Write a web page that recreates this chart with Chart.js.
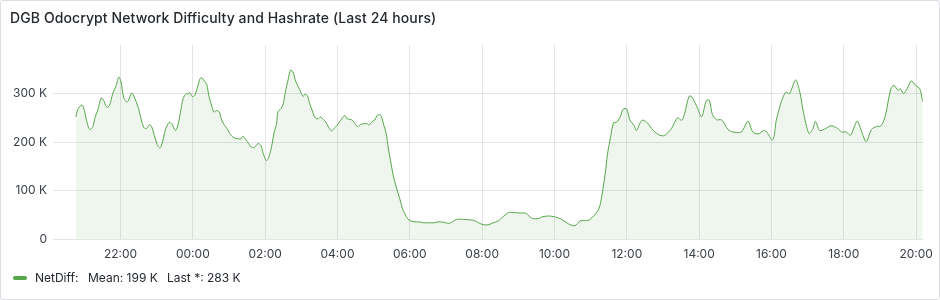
<!DOCTYPE html>
<html lang="en">
<head>
<meta charset="UTF-8">
<title>DGB Odocrypt Network Difficulty</title>
<script src="https://cdn.jsdelivr.net/npm/chart.js"></script>
<style>
  body { margin: 0; background: #fff; font-family: Inter, "Noto Sans", sans-serif; }
  .panel {
    position: relative; width: 940px; height: 300px; box-sizing: border-box;
    border: 1px solid #dcdde0; border-radius: 3px; overflow: hidden;
  }
  .panel canvas { position: absolute; left: 0; top: 0; }
  .title {
    position: absolute; left: 9px; top: 8px; font-size: 14px; font-weight: 500; color: #24292e;
    letter-spacing: 0.1px;
  }
  .legend { position: absolute; left: 0; top: 268px; width: 400px; height: 18px; font-size: 12px; color: #24292e; }
  .legend span { position: absolute; top: 0; line-height: 18px; white-space: pre; }
  .legend .mark { left: 12px; top: 7px; width: 14px; height: 4px; border-radius: 2px; background: #56a64b; }
</style>
</head>
<body>
<div class="panel">
  <canvas id="chart" width="940" height="300"></canvas>
  <div class="title">DGB Odocrypt Network Difficulty and Hashrate (Last 24 hours)</div>
  <div class="legend">
    <span class="mark"></span>
    <span style="left:34px">NetDiff:</span>
    <span style="left:87px">Mean: 199 K</span>
    <span style="left:166px">Last *: 283 K</span>
  </div>
</div>
<script>
// sample times (local clock, starting the previous evening)
const times = [
  '20:46','20:49','20:56','21:00','21:05','21:09','21:14','21:18','21:22','21:28',
  '21:32','21:37','21:42','21:47','21:53','21:57','22:01','22:05','22:10','22:13',
  '22:18','22:21','22:26','22:30','22:34','22:39','22:43','22:48','22:52','22:56',
  '23:01','23:05','23:07','23:11','23:15','23:21','23:25','23:31','23:35','23:40',
  '23:44','23:49','23:52','23:55','23:59','00:03','00:07','00:11','00:14','00:19',
  '00:23','00:27','00:32','00:35','00:39','00:44','00:48','00:53','00:57','01:01',
  '01:07','01:14','01:20','01:23','01:28','01:32','01:37','01:42','01:48','01:53',
  '01:57','02:02','02:06','02:11','02:15','02:19','02:21','02:26','02:30','02:34',
  '02:38','02:42','02:46','02:51','02:55','02:59','03:03','03:06','03:10','03:14',
  '03:19','03:23','03:28','03:32','03:37','03:41','03:45','03:50','03:54','03:59',
  '04:03','04:07','04:12','04:16','04:21','04:25','04:29','04:33','04:38','04:44',
  '04:49','04:53','04:58','05:02','05:06','05:10','05:13','05:17','05:21','05:24',
  '05:28','05:32','05:36','05:41','05:45','05:48','05:52','05:56','06:00','06:07',
  '06:15','06:23','06:31','06:40','06:48','06:56','07:06','07:18','07:29','07:46',
  '07:54','08:02','08:11','08:18','08:27','08:36','08:44','08:55','09:03','09:12',
  '09:23','09:34','09:39','09:50','10:01','10:12','10:23','10:34','10:43','10:56',
  '11:05','11:14','11:19','11:24','11:28','11:33','11:38','11:43','11:49','11:54',
  '12:00','12:05','12:12','12:16','12:25','12:33','12:44','12:55','13:03','13:14',
  '13:24','13:31','13:36','13:43','13:47','13:56','14:04','14:12','14:17','14:22',
  '14:29','14:37','14:48','14:56','15:10','15:21','15:29','15:38','15:49','16:02',
  '16:08','16:17','16:24','16:30','16:40','16:47','16:53','17:02','17:08','17:13',
  '17:20','17:30','17:39','17:50','17:56','18:04','18:11','18:22','18:29','18:37',
  '18:46','18:54','19:02','19:09','19:18','19:23','19:30','19:34','19:39','19:45',
  '19:52','19:59','20:06','20:11'
];

// network difficulty, in thousands
const netDiffK = [
  252,267,277,265,238,226,232,252,265,291,
  286,272,276,300,317,334,324,293,283,285,
  301,298,283,269,248,230,228,236,231,214,
  195,188,190,207,228,241,238,224,234,265,
  290,300,299,302,294,296,310,328,333,326,
  319,293,272,262,265,262,245,234,228,218,
  210,207,207,212,205,198,190,189,197,193,
  176,162,169,193,221,238,262,269,279,307,
  328,348,345,324,314,303,294,299,296,279,
  262,250,248,252,246,241,231,223,228,234,
  241,248,255,248,247,245,238,232,236,238,
  238,236,243,246,255,257,252,234,217,190,
  162,134,114,93,76,62,52,43,39,36,
  36,34,34,34,36,35,33,41,41,39,
  34,30,30,34,38,48,55,55,54,54,
  43,43,46,48,46,41,32,28,38,39,
  48,64,93,134,176,210,240,241,252,268,
  268,246,234,224,245,241,224,214,214,228,
  250,245,259,294,294,274,252,286,286,257,
  246,246,226,221,221,243,221,217,224,205,
  245,286,303,300,328,303,262,218,226,243,
  224,228,234,228,221,221,214,243,224,201,
  226,232,234,255,310,317,307,310,300,310,
  326,317,310,283
];

const xTickLabels = ['22:00','00:00','02:00','04:00','06:00','08:00','10:00','12:00','14:00','16:00','18:00','20:00'];
const yTickValues = [0, 100, 200, 300];

// turn clock strings into minutes, rolling over past midnight
function toMinutes(list) {
  let day = 0, prev = -1;
  return list.map(s => {
    const [h, m] = s.split(':').map(Number);
    let v = h * 60 + m;
    if (prev >= 0 && v < prev) day += 1440;
    prev = v;
    return v + day;
  });
}

const mins = toMinutes(times);
const tickMins = toMinutes(xTickLabels);

const ctx = document.getElementById('chart').getContext('2d');
new Chart(ctx, {
  type: 'line',
  data: {
    datasets: [{
      label: 'NetDiff',
      data: mins.map((m, i) => ({ x: m, y: netDiffK[i] })),
      borderColor: '#56a64b',
      backgroundColor: 'rgba(86,166,75,0.1)',
      borderWidth: 1,
      pointRadius: 0,
      tension: 0.3,
      fill: 'origin'
    }]
  },
  options: {
    responsive: false,
    animation: false,
    devicePixelRatio: 1,
    layout: { padding: { left: 0, top: 44, right: 16.5, bottom: 37.7 } },
    plugins: { legend: { display: false }, tooltip: { enabled: false } },
    scales: {
      x: {
        type: 'linear',
        min: 1208,
        max: 2651,
        border: { display: false },
        grid: { color: 'rgba(36,41,46,0.12)', drawTicks: false },
        afterBuildTicks: axis => { axis.ticks = tickMins.map(v => ({ value: v })); },
        afterFit: scale => { scale.height = 24; },
        ticks: {
          autoSkip: false, maxRotation: 0, padding: 8,
          color: '#3b4047', font: { family: 'Inter', size: 12 },
          callback: (v, i) => xTickLabels[i]
        }
      },
      y: {
        min: 0,
        max: 400,
        border: { display: false },
        grid: { color: 'rgba(36,41,46,0.12)', drawTicks: false },
        afterBuildTicks: axis => { axis.ticks = yTickValues.map(v => ({ value: v })); },
        afterFit: scale => { scale.width = 52; },
        ticks: {
          padding: 6,
          color: '#3b4047', font: { family: 'Inter', size: 12 },
          callback: v => v === 0 ? '0' : v + ' K'
        }
      }
    }
  }
});
</script>
</body>
</html>
